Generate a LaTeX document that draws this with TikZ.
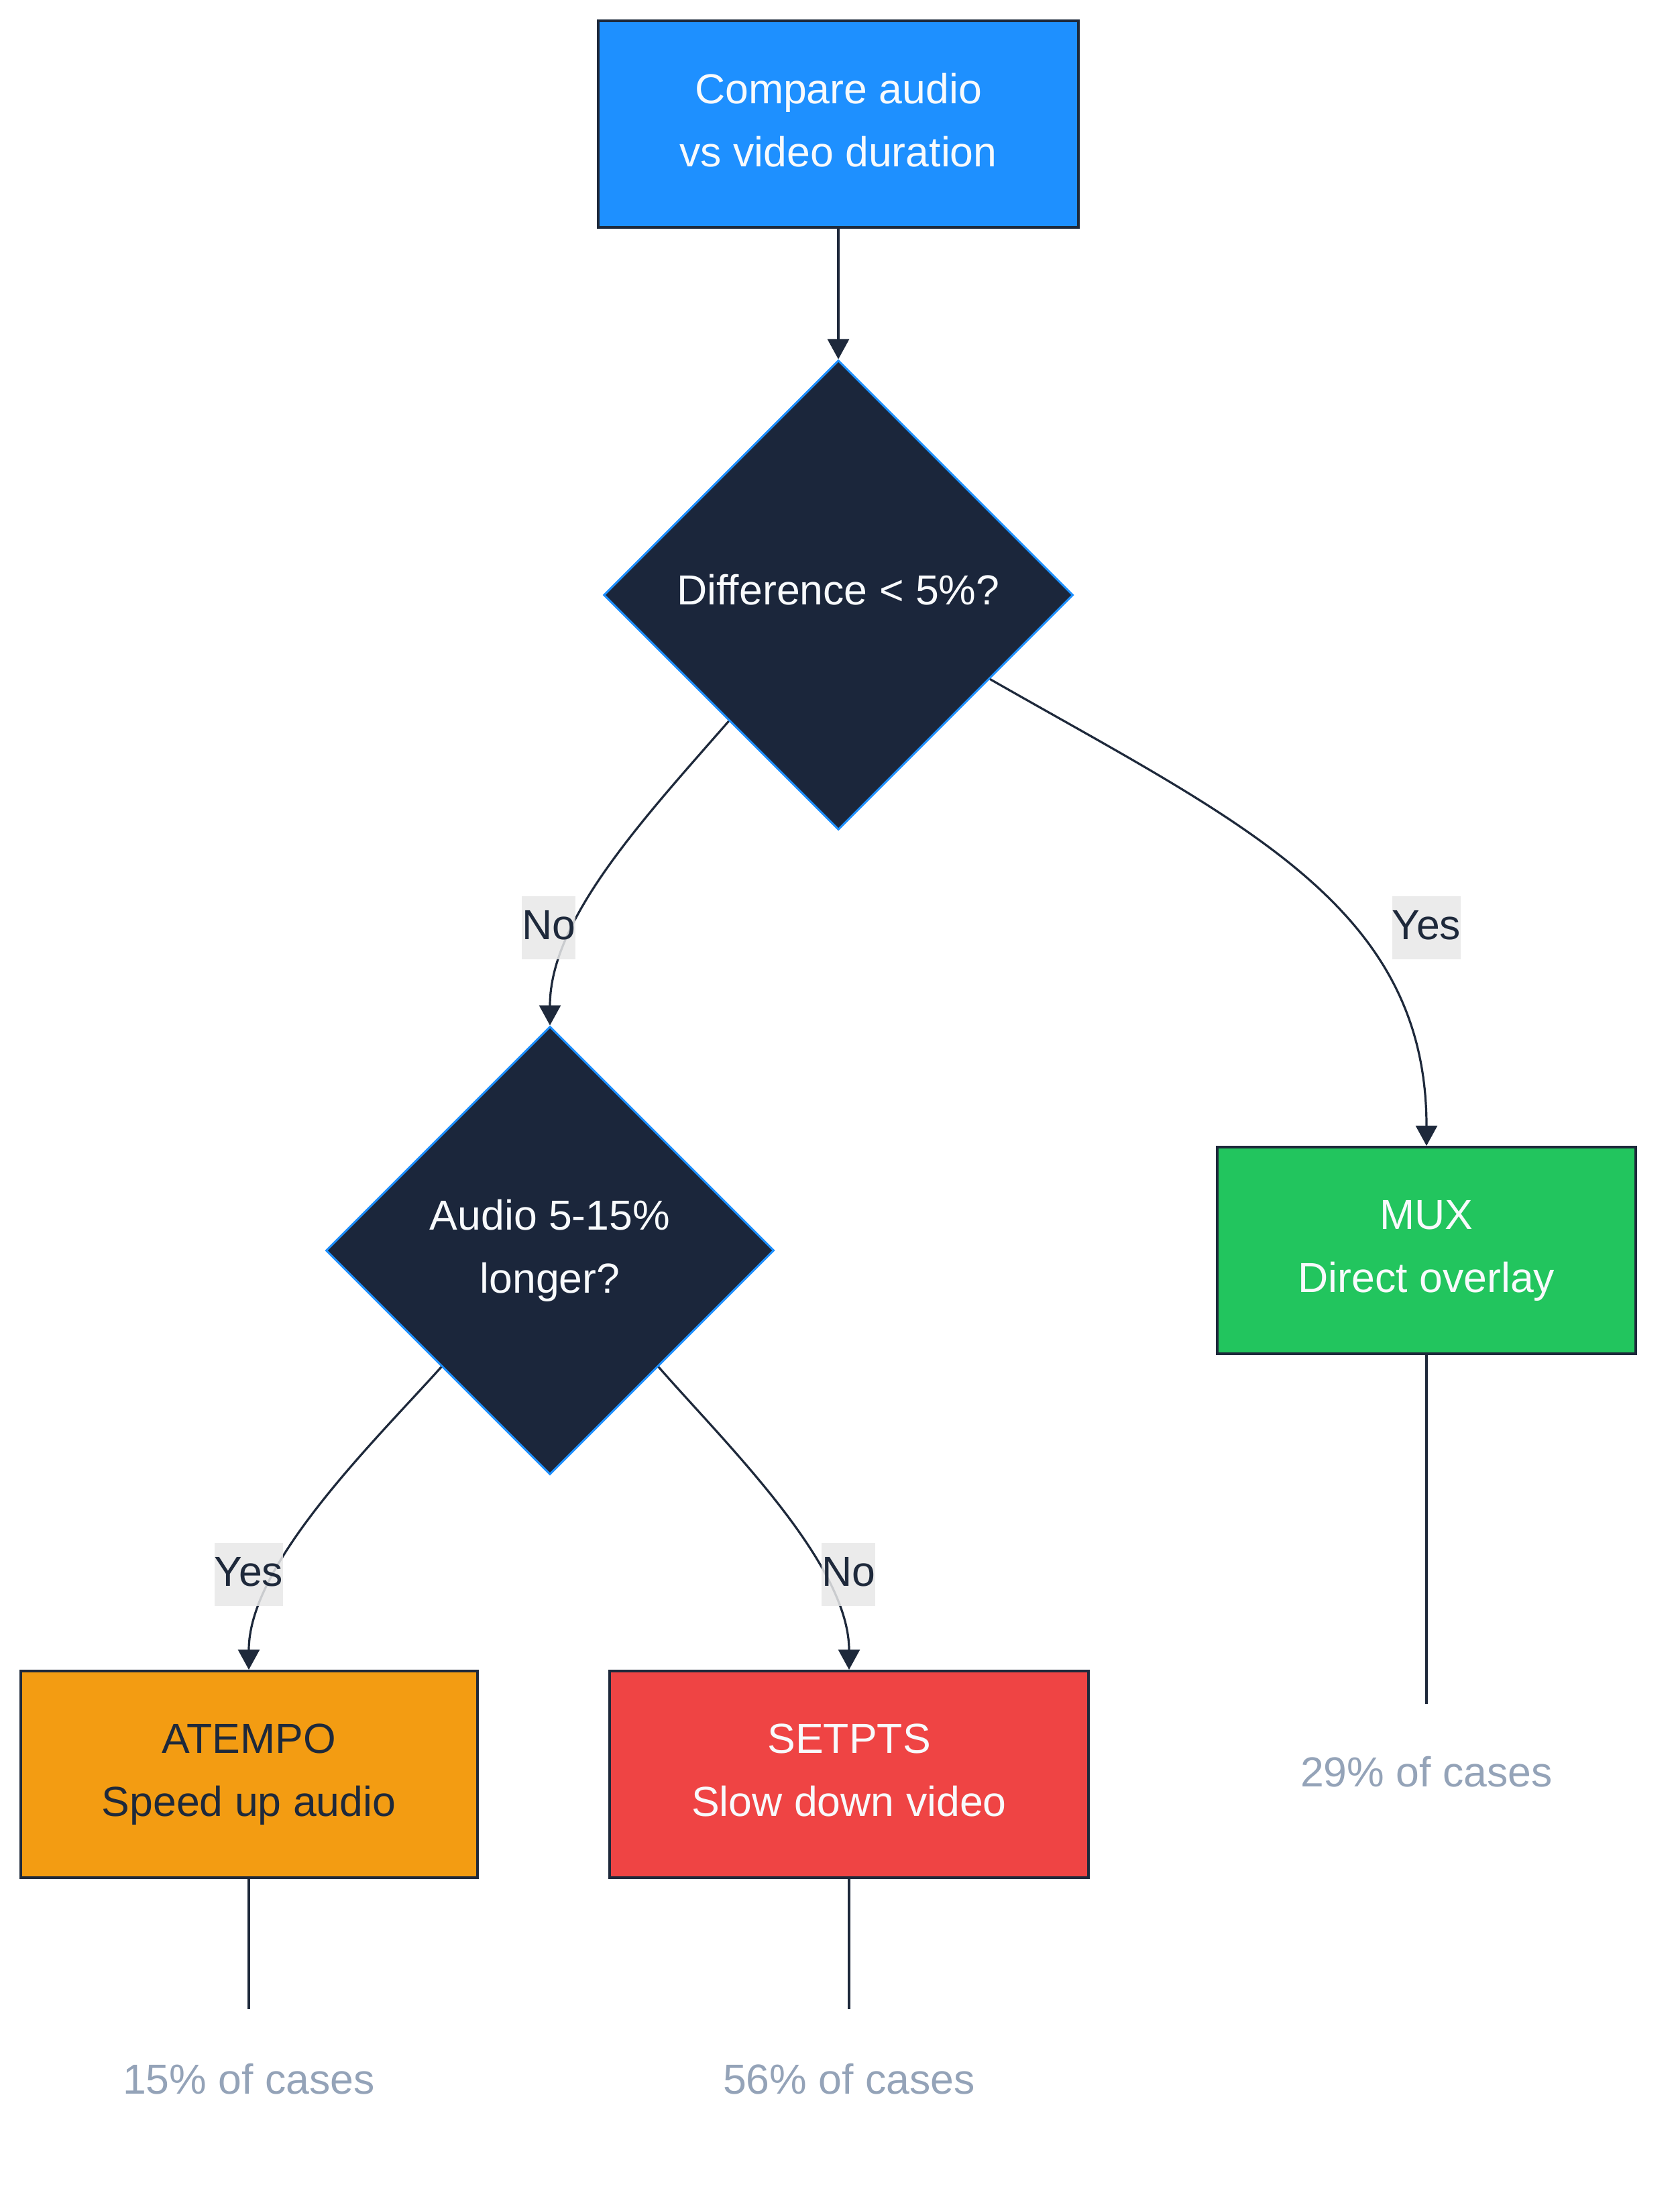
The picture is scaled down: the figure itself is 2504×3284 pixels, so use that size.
\documentclass[tikz,border=0pt]{standalone}
\usepackage{fontspec}
\setmainfont{Liberation Sans}
\usetikzlibrary{shapes.geometric,arrows.meta}
\definecolor{cblue}{HTML}{1E90FF}
\definecolor{cdark}{HTML}{1E293B}
\definecolor{cdiam}{HTML}{1B263B}
\definecolor{cgreen}{HTML}{22C55E}
\definecolor{corange}{HTML}{F39C12}
\definecolor{cred}{HTML}{EF4444}
\definecolor{cgray}{HTML}{94A3B8}
\definecolor{clabel}{HTML}{E8E8E8}
\definecolor{ctext}{HTML}{F8FAFC}
\newcommand\diagfont{\fontsize{15.65pt}{23.5pt}\selectfont}
\newcommand\dstrut[1]{\rule[-#1]{0pt}{0pt}}
\begin{document}
\begin{tikzpicture}[x=0.25pt,y=-0.25pt,
  procbox/.style={rectangle, draw=cdark, line width=1pt, minimum height=77pt,
    align=center, inner sep=0pt, font=\diagfont},
  decision/.style={diamond, aspect=1, draw=cblue, line width=0.75pt, fill=cdiam,
    text=ctext, align=center, inner sep=0pt, font=\diagfont},
  casetext/.style={rectangle, inner sep=0pt, text=cgray, font=\diagfont},
  elabel/.style={rectangle, fill=clabel, fill opacity=0.85, text opacity=1,
    text=cdark, inner xsep=0pt, inner ysep=0pt, minimum height=23.5pt, font=\diagfont},
  conn/.style={draw=cdark, line width=0.8pt, -{Triangle[length=7.5pt,width=8pt]}},
  plainline/.style={draw=cdark, line width=0.8pt}
]
\useasboundingbox (0,0) rectangle (2504,3284);
\fill[white] (0,0) rectangle (2504,3284);

% nodes
\node[procbox, fill=cblue, text=ctext, minimum width=179pt] (start) at (1250,185) {Compare audio\\vs video duration\dstrut{3.3pt}};
\node[decision, minimum width=175pt, minimum height=175pt] (d1) at (1250,887) {Difference < 5\%?\dstrut{4pt}};
\node[decision, minimum width=167pt, minimum height=167pt] (d2) at (820,1864) {Audio 5-15\%\\longer?};
\node[procbox, fill=cgreen, text=ctext, minimum width=156pt] (mux) at (2127,1864) {MUX\\Direct overlay};
\node[procbox, fill=corange, text=cdark, minimum width=170.25pt] (atempo) at (371,2645) {ATEMPO\\Speed up audio};
\node[procbox, fill=cred, text=ctext, minimum width=178.5pt] (setpts) at (1266,2645) {SETPTS\\Slow down video\dstrut{3.3pt}};
\node[casetext, minimum height=50pt] (c29) at (2127,2641) {29\% of cases};
\node[casetext, minimum height=51.5pt] (c15) at (371,3099) {15\% of cases};
\node[casetext, minimum height=51.5pt] (c56) at (1266,3099) {56\% of cases};

% connectors
\draw[conn] (start.south) -- (d1.north);
\draw[conn] (d1.-131) .. controls (960,1220) and (820,1370) .. (d2.north);
\draw[conn] (d1.-29.4) .. controls (1850,1226) and (2127,1350) .. (mux.north);
\draw[conn] (d2.-133) .. controls (560,2147) and (371,2330) .. (atempo.north);
\draw[conn] (d2.-47.4) .. controls (1080,2150) and (1266,2330) .. (setpts.north);
\draw[plainline] (mux.south) -- (c29.north);
\draw[plainline] (atempo.south) -- (c15.north);
\draw[plainline] (setpts.south) -- (c56.north);

% edge labels
\node[elabel] (lno1) at (818,1383) {No\dstrut{2pt}};
\node[elabel] (lyes1) at (2127,1383) {Yes\dstrut{2pt}};
\node[elabel] (lyes2) at (371,2347) {Yes\dstrut{2pt}};
\node[elabel] (lno2) at (1265,2347) {No\dstrut{2pt}};
\end{tikzpicture}
\end{document}
